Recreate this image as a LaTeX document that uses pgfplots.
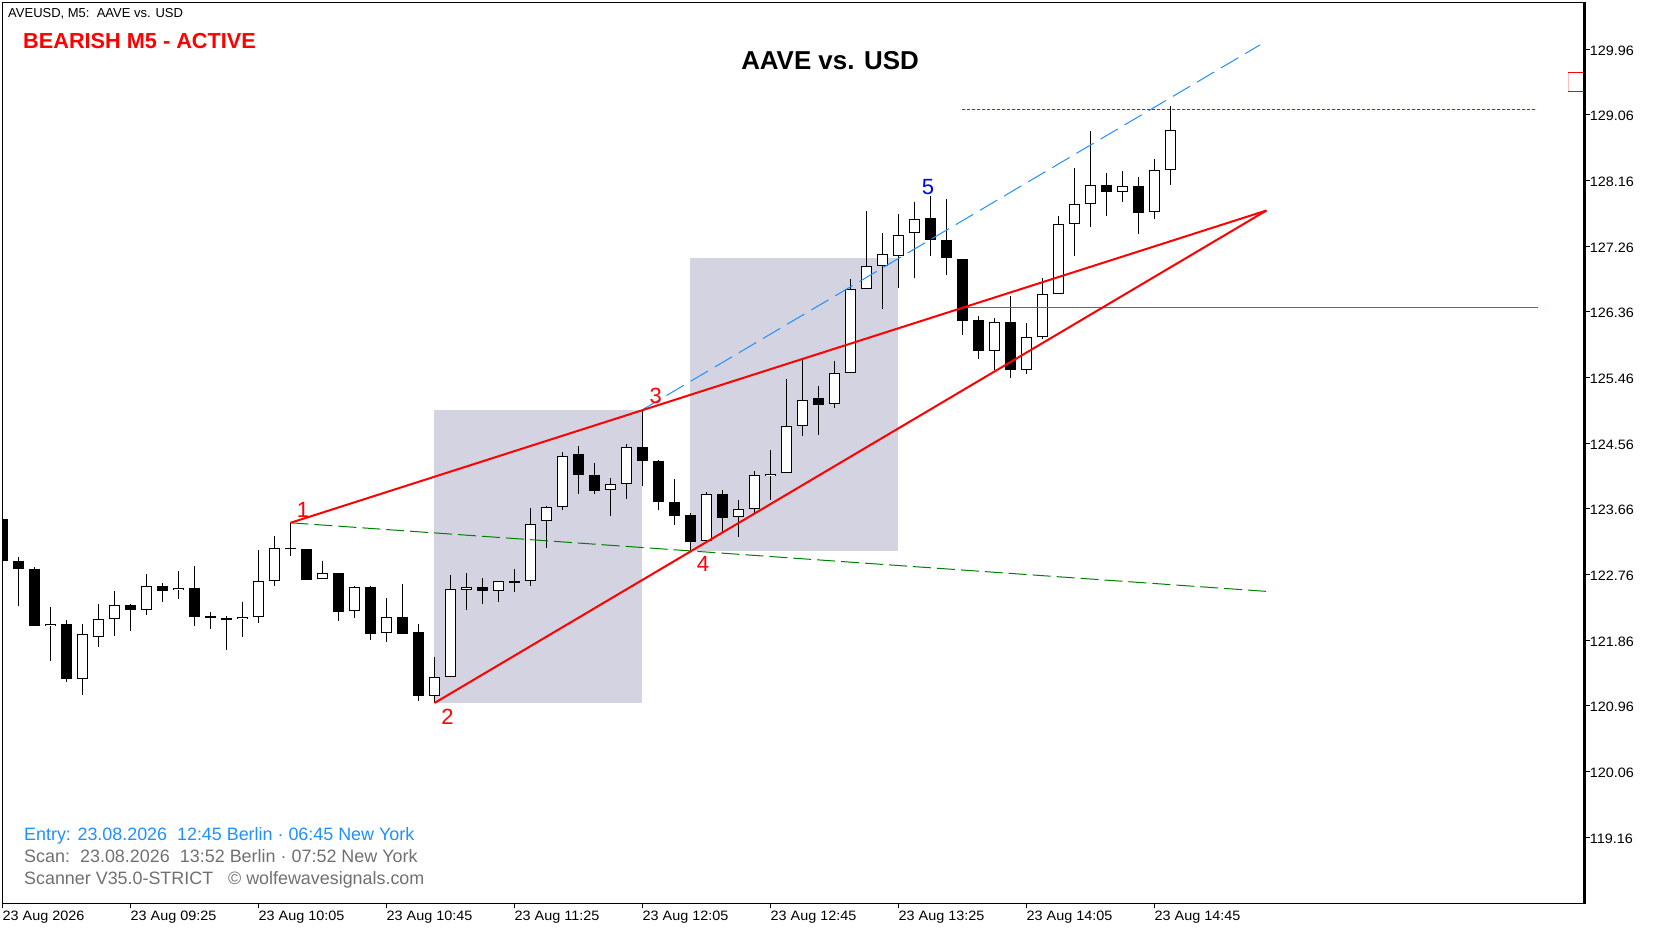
\documentclass[border=0pt]{standalone}
\usepackage{fontspec}
\setmainfont{Liberation Sans}
\newfontfamily\tickfont[FakeStretch=1.06]{Liberation Sans}
\usepackage{pgfplots}
\usepackage{pgfplotstable}
\pgfplotsset{compat=1.18}
\definecolor{zone}{HTML}{D3D3E1}
\definecolor{dodger}{HTML}{1E90FF}
\definecolor{dimgr}{HTML}{707070}
\definecolor{dgreen}{HTML}{008000}
\newcommand\px[2]{({#1*1pt},{(930-#2)*1pt})}
\newcommand\fs[1]{\fontsize{#1}{#1}\selectfont}
\pgfplotstableread{
i hi lo t b
0 123.52 122.95 123.52 122.95
1 123.00 122.33 122.95 122.83
2 122.86 122.06 122.84 122.06
4 122.14 121.29 122.08 121.33
8 122.36 121.99 122.34 122.27
10 122.65 122.39 122.60 122.54
12 122.88 122.05 122.58 122.18
13 122.25 122.02 122.19 122.16
14 122.19 121.72 122.17 122.14
18 123.47 123.02 123.13 123.12
19 123.11 122.69 123.11 122.69
21 122.78 122.13 122.78 122.25
23 122.61 121.87 122.59 121.95
25 122.63 121.95 122.18 121.95
26 122.08 121.03 121.97 121.10
30 122.71 122.36 122.59 122.54
32 122.84 122.52 122.67 122.65
36 124.52 123.87 124.41 124.12
37 124.29 123.86 124.13 123.91
40 125.02 123.97 124.51 124.32
41 124.33 123.65 124.32 123.75
42 124.07 123.44 123.76 123.57
43 123.60 123.07 123.58 123.21
45 123.92 123.35 123.87 123.54
51 125.35 124.68 125.18 125.09
58 127.95 127.12 127.65 127.34
59 127.91 126.87 127.35 127.10
60 127.09 126.04 127.09 126.24
61 126.31 125.72 126.25 125.83
63 126.58 125.46 126.22 125.57
69 128.26 127.67 128.10 128.01
71 128.21 127.43 128.09 127.72
}\bears
\pgfplotstableread{
i hi lo t b
3 122.32 121.58 122.08 122.05
5 122.08 121.11 121.94 121.33
6 122.36 121.77 122.15 121.91
7 122.54 121.92 122.34 122.15
9 122.77 122.21 122.60 122.27
11 122.81 122.43 122.58 122.55
15 122.39 121.91 122.18 122.15
16 123.10 122.10 122.67 122.18
17 123.29 122.61 123.13 122.67
20 122.95 122.70 122.78 122.70
22 122.61 122.17 122.59 122.26
24 122.44 121.84 122.18 121.96
27 121.63 121.00 121.35 121.10
28 122.75 121.35 122.56 121.35
29 122.78 122.28 122.59 122.55
31 122.67 122.39 122.67 122.53
33 123.67 122.61 123.45 122.67
34 123.70 123.13 123.68 123.49
35 124.44 123.65 124.38 123.68
38 124.08 123.57 124.00 123.92
39 124.55 123.80 124.51 124.00
44 123.89 123.21 123.86 123.22
46 123.78 123.27 123.66 123.55
47 124.18 123.60 124.12 123.66
48 124.47 123.78 124.14 124.11
49 125.44 124.15 124.79 124.15
50 125.71 124.66 125.15 124.80
52 125.69 125.05 125.52 125.10
53 126.81 125.52 126.68 125.52
54 127.74 126.68 126.99 126.68
55 127.44 126.40 127.16 126.99
56 127.70 126.69 127.42 127.12
57 127.87 126.83 127.64 127.44
62 126.28 125.57 126.22 125.83
64 126.21 125.51 126.01 125.57
65 126.82 125.99 126.60 126.01
66 127.67 126.60 127.56 126.60
67 128.33 127.13 127.84 127.56
68 128.84 127.53 128.10 127.84
70 128.29 127.87 128.08 128.01
72 128.46 127.64 128.30 127.73
73 129.18 128.10 128.86 128.30
}\bulls
\pgfplotsset{
  cwick/.style={draw=none,no markers,forget plot,
    error bars/.cd,y dir=minus,y explicit,error mark=none,
    error bar style={black,line width=1pt,solid}},
  cbody/.style n args={2}{draw=none,no markers,forget plot,
    error bars/.cd,y dir=minus,y explicit,error mark=none,
    error bar style={#1,line width=#2,solid}},
}
\begin{document}
\begin{tikzpicture}
\path[use as bounding box] (0,0) rectangle (1654pt,930pt);
\begin{axis}[
  at={(2.5pt,26.7pt)},anchor=south west,
  scale only axis,width=1582.2pt,height=900.8pt,
  xmin=0,xmax=98.89,ymin=118.255,ymax=130.601,
  axis line style={black,line width=1.2pt},
  tick align=outside,major tick length=5pt,
  tick style={black,line width=1pt},
  xtick pos=bottom,ytick pos=right,yticklabel pos=right,
  xtick={0,8,16,24,32,40,48,56,64,72},
  xticklabels={23 Aug 2026,23 Aug 09:25,23 Aug 10:05,23 Aug 10:45,23 Aug 11:25,23 Aug 12:05,23 Aug 12:45,23 Aug 13:25,23 Aug 14:05,23 Aug 14:45},
  ytick={129.96,129.06,128.16,127.26,126.36,125.46,124.56,123.66,122.76,121.86,120.96,120.06,119.16},
  yticklabels={129.96,129.06,128.16,127.26,126.36,125.46,124.56,123.66,122.76,121.86,120.96,120.06,119.16},
  xticklabel style={anchor=north west,inner sep=0pt,xshift=0pt,yshift=-3pt,font=\fs{13.6}\tickfont},
  yticklabel style={anchor=west,inner sep=0pt,xshift=0pt,yshift=-1.3pt,font=\fs{13.6}\tickfont},
]
\addplot[fill=zone,draw=none,forget plot] coordinates {(27,121.00)(40,121.00)(40,125.02)(27,125.02)} --cycle;
\addplot[fill=zone,draw=none,forget plot] coordinates {(43,123.08)(56,123.08)(56,127.10)(43,127.10)} --cycle;
\addplot[cwick] table[x=i,y=hi,y error expr=\thisrow{hi}-\thisrow{lo}]{\bears};
\addplot[cwick] table[x=i,y=hi,y error expr=\thisrow{hi}-\thisrow{lo}]{\bulls};
\addplot[cbody={black}{11pt}] table[x=i,y=t,y error expr=\thisrow{t}-\thisrow{b}]{\bears};
\addplot[cbody={black}{10.6pt}] table[x=i,y=t,y error expr=\thisrow{t}-\thisrow{b}]{\bulls};
\addplot[cbody={white}{8.6pt}] table[x=i,y expr=\thisrow{t}-0.0137,y error expr=\thisrow{t}-\thisrow{b}-0.0274]{\bulls};
\addplot[dgreen,line width=1pt,dash pattern=on 18pt off 6pt,forget plot] coordinates {(18,123.47)(79,122.53)};
\addplot[dodger,line width=1pt,dash pattern=on 20pt off 8pt,forget plot] coordinates {(40,125.02)(78.6,130.02)};
\addplot[red,line width=1pt,dash pattern=on 3pt off 2pt,forget plot] coordinates {(60,129.14)(95.8,129.14)};
\addplot[color=dodger!85!black,line width=1pt,forget plot] coordinates {(60,126.42)(96,126.42)};
\addplot[red,line width=2pt,forget plot] coordinates {(18,123.47)(79,127.75)};
\addplot[red,line width=2pt,forget plot] coordinates {(27,121.00)(79,127.75)};
\end{axis}
\draw[black,line width=2.8pt] \px{1584.7}{903.8} -- \px{1584.7}{2};
\draw[red!25,line width=1pt] \px{1568.2}{72.3} -- \px{1568.2}{92.3};
\draw[red,line width=1pt] \px{1568}{72.8} -- \px{1583.3}{72.8};
\draw[red,line width=1pt] \px{1568}{92} -- \px{1583.3}{92};
\node[anchor=base west,inner sep=0pt,font=\fs{13.0}] at \px{8}{17.5} {AVEUSD, M5:\ \ AAVE vs. USD};
\node[anchor=base west,inner sep=0pt,text=red,font=\fs{21.7}\bfseries] at \px{23}{49} {BEARISH M5 - ACTIVE};
\node[anchor=base,inner sep=0pt,font=\fs{25.9}\bfseries] at \px{830}{70} {AAVE vs. USD};
\node[anchor=base,inner sep=0pt,text=red,font=\fs{22}] at \px{303}{518} {1};
\node[anchor=base,inner sep=0pt,text=red,font=\fs{22}] at \px{447.5}{724} {2};
\node[anchor=base,inner sep=0pt,text=red,font=\fs{22}] at \px{655.7}{403.5} {3};
\node[anchor=base,inner sep=0pt,text=red,font=\fs{22}] at \px{703}{571} {4};
\node[anchor=base,inner sep=0pt,text=blue,font=\fs{22}] at \px{928}{195} {5};
\node[anchor=base west,inner sep=0pt,text=dodger,font=\fs{17.9}] at \px{24}{840.5} {Entry: 23.08.2026\ \ 12:45 Berlin · 06:45 New York};
\node[anchor=base west,inner sep=0pt,text=dimgr,font=\fs{17.95}] at \px{24}{862} {Scan:\ \ 23.08.2026\ \ 13:52 Berlin · 07:52 New York};
\node[anchor=base west,inner sep=0pt,text=dimgr,font=\fs{17.9}] at \px{24}{884} {Scanner V35.0-STRICT\ \ \ © wolfewavesignals.com};
\end{tikzpicture}
\end{document}
